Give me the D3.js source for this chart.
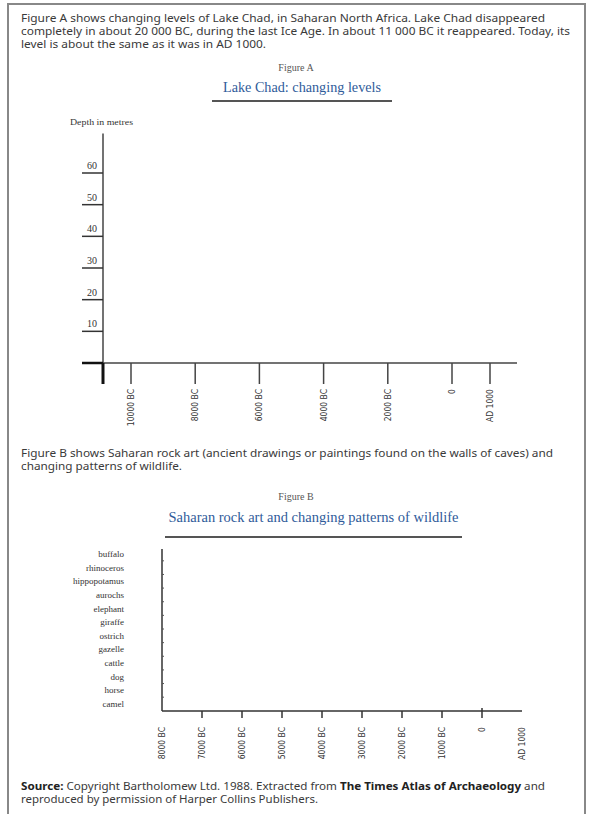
<!DOCTYPE html>
<html lang="en">
<head>
  <meta charset="utf-8">
  <title>Lake Chad and Saharan rock art</title>
  <script src="https://cdn.jsdelivr.net/npm/d3@7"></script>
  <style>
    body { margin: 0; background: #fff; }
    .para { font-family: "Noto Sans", sans-serif; font-size: 10.5px; fill: #3a3a3a; }
    .fig { font-family: "Liberation Serif", serif; font-size: 10px; fill: #555; }
    .title { font-family: "Liberation Serif", serif; font-size: 14px; fill: #2f5b9a; }
    .tick-lab { font-family: "Liberation Serif", serif; font-size: 10px; fill: #333; }
    .x-lab { font-family: "DejaVu Sans Condensed", "DejaVu Sans", sans-serif; font-size: 8.5px; fill: #333; }
    .animal { font-family: "Liberation Serif", serif; font-size: 9px; fill: #333; }
  </style>
</head>
<body>
<script>
  // Figure A
  const depthTicks = [10, 20, 30, 40, 50, 60];
  const yearsA = [-10000, -8000, -6000, -4000, -2000, 0, 1000];
  const yearLabelsA = ["10000 BC", "8000 BC", "6000 BC", "4000 BC", "2000 BC", "0", "AD 1000"];

  // Figure B
  const animals = ["buffalo", "rhinoceros", "hippopotamus", "aurochs", "elephant", "giraffe",
    "ostrich", "gazelle", "cattle", "dog", "horse", "camel"];
  const yearsB = [-8000, -7000, -6000, -5000, -4000, -3000, -2000, -1000, 0, 1000];
  const yearLabelsB = ["8000 BC", "7000 BC", "6000 BC", "5000 BC", "4000 BC", "3000 BC",
    "2000 BC", "1000 BC", "0", "AD 1000"];

  const introA = [
    "Figure A shows changing levels of Lake Chad, in Saharan North Africa. Lake Chad disappeared",
    "completely in about 20 000 BC, during the last Ice Age. In about 11 000 BC it reappeared. Today, its",
    "level is about the same as it was in AD 1000."
  ];
  const introB = [
    "Figure B shows Saharan rock art (ancient drawings or paintings found on the walls of caves) and",
    "changing patterns of wildlife."
  ];

  const w = 589, h = 814;
  const svg = d3.select("body").append("svg")
    .attr("width", w).attr("height", h);

  svg.append("rect").attr("width", w).attr("height", h).attr("fill", "#fff");
  // outer frame (bottom edge runs off the page)
  svg.append("rect")
    .attr("x", 8).attr("y", 4).attr("width", 577).attr("height", 840)
    .attr("fill", "none").attr("stroke", "#888").attr("stroke-width", 2);

  function paragraph(lines, y0, widths) {
    lines.forEach(function (t, i) {
      svg.append("text").attr("class", "para")
        .attr("x", 21).attr("y", y0 + i * 13)
        .attr("textLength", widths[i]).attr("lengthAdjust", "spacingAndGlyphs")
        .text(t);
    });
  }

  function heading(label, title, yLab, yTitle, yLine, x1, x2, tw) {
    svg.append("text").attr("class", "fig")
      .attr("x", 296).attr("y", yLab).attr("text-anchor", "middle").text(label);
    svg.append("text").attr("class", "title")
      .attr("x", (x1 + x2) / 2 - tw / 2).attr("y", yTitle)
      .attr("textLength", tw).attr("lengthAdjust", "spacingAndGlyphs")
      .text(title);
    svg.append("line")
      .attr("x1", x1).attr("x2", x2).attr("y1", yLine).attr("y2", yLine)
      .attr("stroke", "#555").attr("stroke-width", 2);
  }

  // ---------- Figure A ----------
  paragraph(introA, 22, [524, 549, 245]);
  heading("Figure A", "Lake Chad: changing levels", 71, 92, 101, 212, 392, 158);

  const yA = d3.scaleLinear().domain([0, 60]).range([363, 173]);
  const xA = d3.scaleLinear().domain([-10000, 0, 1000]).range([131, 452, 490]);
  const axX = 103;

  const gA = svg.append("g");
  gA.append("text").attr("class", "animal")
    .attr("x", 70).attr("y", 125).style("font-size", "8px")
    .attr("textLength", 63).attr("lengthAdjust", "spacingAndGlyphs")
    .text("Depth in metres");

  // y axis
  gA.append("line").attr("x1", axX).attr("x2", axX)
    .attr("y1", yA(72.5)).attr("y2", yA(0))
    .attr("stroke", "#444").attr("stroke-width", 1.5);
  gA.selectAll(".ytick").data(depthTicks).enter().append("line")
    .attr("x1", axX - 21).attr("x2", axX)
    .attr("y1", d => yA(d)).attr("y2", d => yA(d))
    .attr("stroke", "#333").attr("stroke-width", 1.5);
  gA.selectAll(".ylab").data(depthTicks).enter().append("text")
    .attr("class", "tick-lab")
    .attr("x", axX - 11).attr("y", d => yA(d) - 4)
    .attr("text-anchor", "middle").text(d => d);

  // x axis
  gA.append("line").attr("x1", axX - 21).attr("x2", 517)
    .attr("y1", yA(0)).attr("y2", yA(0))
    .attr("stroke", "#444").attr("stroke-width", 1.5);
  gA.append("line").attr("x1", axX - 21).attr("x2", axX)
    .attr("y1", yA(0)).attr("y2", yA(0))
    .attr("stroke", "#111").attr("stroke-width", 2.5);
  gA.append("line").attr("x1", axX).attr("x2", axX)
    .attr("y1", yA(0)).attr("y2", yA(0) + 21)
    .attr("stroke", "#111").attr("stroke-width", 3);
  gA.selectAll(".xtick").data(yearsA).enter().append("line")
    .attr("x1", d => xA(d)).attr("x2", d => xA(d))
    .attr("y1", yA(0)).attr("y2", yA(0) + 21)
    .attr("stroke", "#444").attr("stroke-width", 1.5);
  gA.selectAll(".xlab").data(yearsA).enter().append("text")
    .attr("class", "x-lab")
    .attr("transform", d => "translate(" + (xA(d) + 3) + "," + (yA(0) + 26) + ") rotate(-90)")
    .attr("text-anchor", "end")
    .text((d, i) => yearLabelsA[i]);

  // ---------- Figure B ----------
  paragraph(introB, 457, [532, 161]);
  heading("Figure B", "Saharan rock art and changing patterns of wildlife", 500, 522, 537, 165, 462, 290);

  const xB = d3.scaleLinear().domain([-8000, 1000]).range([162, 522]);
  const yB = d3.scalePoint().domain(animals).range([554, 704]);
  const baseB = 711;

  const gB = svg.append("g");
  gB.append("line").attr("x1", xB(-8000)).attr("x2", xB(-8000))
    .attr("y1", 549).attr("y2", baseB)
    .attr("stroke", "#333").attr("stroke-width", 1.5);
  gB.append("line").attr("x1", xB(-8000)).attr("x2", xB(1000))
    .attr("y1", baseB).attr("y2", baseB)
    .attr("stroke", "#333").attr("stroke-width", 1.5);

  // tiny marks between animal rows
  gB.selectAll(".ymark").data(animals.slice(1)).enter().append("line")
    .attr("x1", xB(-8000)).attr("x2", xB(-8000) + 2)
    .attr("y1", d => yB(d) - yB.step() / 2).attr("y2", d => yB(d) - yB.step() / 2)
    .attr("stroke", "#555").attr("stroke-width", 1);
  gB.selectAll(".alab").data(animals).enter().append("text")
    .attr("class", "animal")
    .attr("x", 124).attr("y", d => yB(d) + 3)
    .attr("text-anchor", "end").text(d => d);

  gB.selectAll(".xtick").data(yearsB.filter(d => d > -8000 && d < 1000)).enter().append("line")
    .attr("x1", d => xB(d)).attr("x2", d => xB(d))
    .attr("y1", d => d === 0 ? baseB - 3 : baseB).attr("y2", baseB + 7)
    .attr("stroke", "#333").attr("stroke-width", 1.5);
  gB.selectAll(".xlab").data(yearsB).enter().append("text")
    .attr("class", "x-lab")
    .attr("transform", d => "translate(" + (xB(d) + 3) + "," + (baseB + 16) + ") rotate(-90)")
    .attr("text-anchor", "end")
    .text((d, i) => yearLabelsB[i]);

  // ---------- Source ----------
  const src1 = svg.append("text").attr("class", "para")
    .attr("x", 21).attr("y", 790)
    .attr("textLength", 524).attr("lengthAdjust", "spacingAndGlyphs");
  src1.append("tspan").attr("font-weight", "bold").attr("fill", "#222").text("Source:");
  src1.append("tspan").text(" Copyright Bartholomew Ltd. 1988. Extracted from ");
  src1.append("tspan").attr("font-weight", "bold").attr("fill", "#222").text("The Times Atlas of Archaeology");
  src1.append("tspan").text(" and");
  svg.append("text").attr("class", "para")
    .attr("x", 21).attr("y", 803)
    .attr("textLength", 297).attr("lengthAdjust", "spacingAndGlyphs")
    .text("reproduced by permission of Harper Collins Publishers.");
</script>
</body>
</html>
